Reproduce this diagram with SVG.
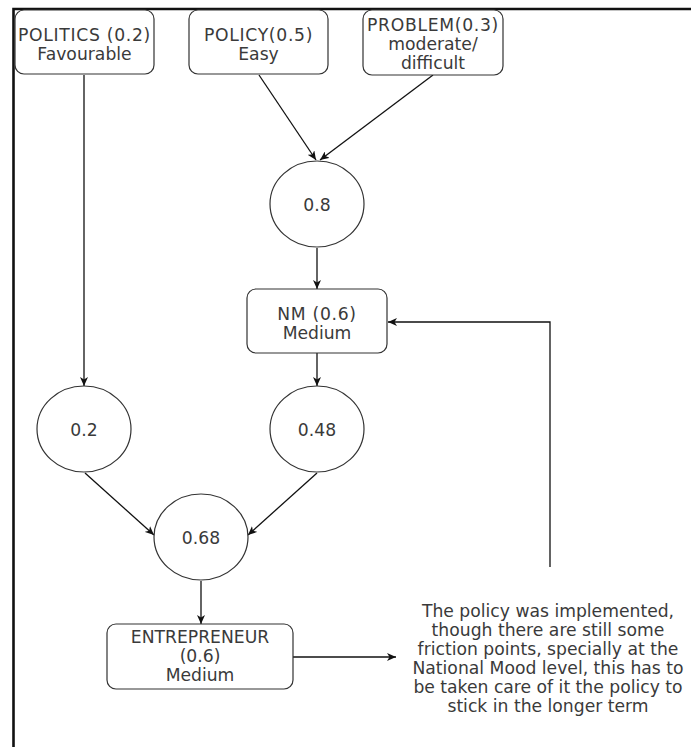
<svg xmlns="http://www.w3.org/2000/svg" width="691" height="747" viewBox="0 0 691 747">
  <style>
    .box { fill: #ffffff; stroke: #333333; stroke-width: 1.2; }
    .node { fill: #ffffff; stroke: #333333; stroke-width: 1.2; }
    .lbl { font-family: "DejaVu Sans", Verdana, sans-serif; font-size: 17.2px; fill: #3a3a3a; text-anchor: middle; }
    .caps { letter-spacing: 0.7px; }
    .edge { fill: none; stroke: #111111; stroke-width: 1.3; marker-end: url(#arrow); }
    .frame { fill: none; stroke: #111111; stroke-width: 2.6; }
  </style>
  <defs>
    <marker id="arrow" markerWidth="10" markerHeight="8" refX="9" refY="4" orient="auto" markerUnits="userSpaceOnUse">
      <path d="M0,0 L9,4 L0,8 L2.5,4 Z" fill="#111111"/>
    </marker>
  </defs>

  <rect width="691" height="747" fill="#ffffff"/>

  <!-- page frame: top and left edges -->
  <path class="frame" d="M13.5,747 L13.5,9 L691,9"/>

  <!-- connectors -->
  <g id="connectors">
    <path class="edge" d="M84,75 L84,386"/>
    <path class="edge" d="M259,75 L316,160"/>
    <path class="edge" d="M433,75 L320,160"/>
    <path class="edge" d="M317,248 L317,289"/>
    <path class="edge" d="M317,353 L317,386"/>
    <path class="edge" d="M85,473 L154,535"/>
    <path class="edge" d="M317,473 L248,535"/>
    <path class="edge" d="M201,581 L201,624"/>
    <path class="edge" d="M293,657 L396,657"/>
    <path class="edge" d="M550,567 L550,322 L388,322"/>
  </g>

  <g id="politics">
    <rect class="box" x="15" y="10" width="139" height="64" rx="9"/>
    <text class="lbl caps" x="84.5" y="41">POLITICS (0.2)</text>
    <text class="lbl" x="84.5" y="60">Favourable</text>
  </g>

  <g id="policy">
    <rect class="box" x="189" y="10" width="139" height="64" rx="9"/>
    <text class="lbl caps" x="258.5" y="41">POLICY(0.5)</text>
    <text class="lbl" x="258.5" y="60">Easy</text>
  </g>

  <g id="problem">
    <rect class="box" x="363" y="10" width="140" height="65" rx="9"/>
    <text class="lbl caps" x="433" y="31">PROBLEM(0.3)</text>
    <text class="lbl" x="433" y="50">moderate/</text>
    <text class="lbl" x="433" y="69">difficult</text>
  </g>

  <g id="combined-policy-problem">
    <ellipse class="node" cx="317" cy="204" rx="47" ry="43"/>
    <text class="lbl" x="317" y="211">0.8</text>
  </g>

  <g id="national-mood">
    <rect class="box" x="247" y="289" width="140" height="64" rx="9"/>
    <text class="lbl caps" x="317" y="320">NM (0.6)</text>
    <text class="lbl" x="317" y="339">Medium</text>
  </g>

  <g id="politics-weight">
    <ellipse class="node" cx="84" cy="429" rx="47" ry="43"/>
    <text class="lbl" x="84" y="436">0.2</text>
  </g>

  <g id="mood-weight">
    <ellipse class="node" cx="317" cy="429" rx="47" ry="43"/>
    <text class="lbl" x="317" y="436">0.48</text>
  </g>

  <g id="total">
    <ellipse class="node" cx="201" cy="537" rx="47" ry="43"/>
    <text class="lbl" x="201" y="544">0.68</text>
  </g>

  <g id="entrepreneur">
    <rect class="box" x="107" y="624" width="186" height="65" rx="9"/>
    <text class="lbl" x="200" y="643">ENTREPRENEUR</text>
    <text class="lbl" x="200" y="662">(0.6)</text>
    <text class="lbl" x="200" y="681">Medium</text>
  </g>

  <g id="outcome-note">
    <text class="lbl" x="548" y="617">The policy was implemented,</text>
    <text class="lbl" x="548" y="636">though there are still some</text>
    <text class="lbl" x="548" y="655">friction points, specially at the</text>
    <text class="lbl" x="548" y="674">National Mood level, this has to</text>
    <text class="lbl" x="548" y="693">be taken care of it the policy to</text>
    <text class="lbl" x="548" y="712">stick in the longer term</text>
  </g>
</svg>
